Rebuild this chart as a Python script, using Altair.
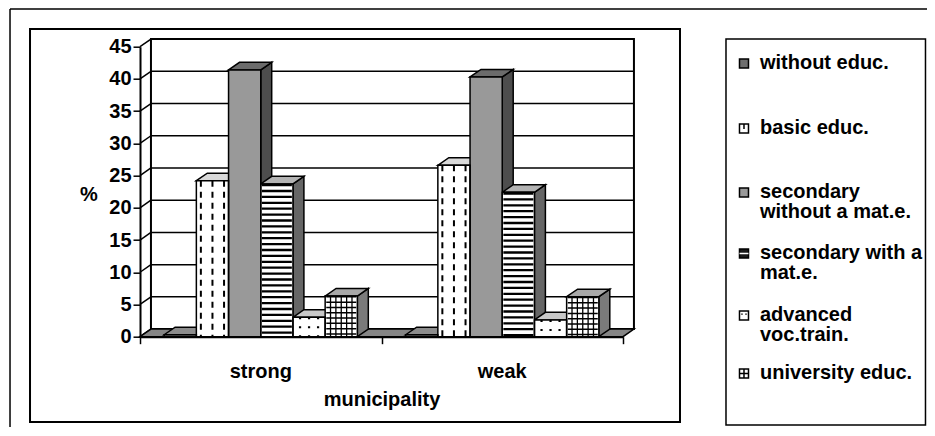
import altair as alt
import pandas as pd

# ---------------- data ----------------
MUNICIPALITIES = ["strong", "weak"]
EDUCATION = [
    "without educ.",
    "basic educ.",
    "secondary without a mat.e.",
    "secondary with a mat.e.",
    "advanced voc.train.",
    "university educ.",
]
STRONG = [0.3, 24.2, 41.4, 23.7, 3.0, 6.3]
WEAK = [0.3, 26.6, 40.3, 22.4, 2.6, 6.2]
Y_TICKS = [0, 5, 10, 15, 20, 25, 30, 35, 40, 45]
LEGEND_LINES = [
    ["without educ."],
    ["basic educ."],
    ["secondary", "without a mat.e."],
    ["secondary with a", "mat.e."],
    ["advanced", "voc.train."],
    ["university educ."],
]
Y_TITLE = "%"
X_TITLE = "municipality"

# ---------------- style ----------------
FRONT = ["#707070", "#ffffff", "#999999", "#ffffff", "#ffffff", "#ffffff"]
SIDE = ["#4d4d4d", "#8c8c8c", "#4d4d4d", "#666666", "#9a9a9a", "#7a7a7a"]
TOP = ["#8c8c8c", "#d9d9d9", "#6b6b6b", "#b3b3b3", "#c8c8c8", "#a8a8a8"]
SWATCH = ["#6e6e6e", "#ffffff", "#999999", "#1a1a1a", "#ffffff", "#ffffff"]
# small glyph inside each legend swatch (style only)
SWATCH_GLYPH = [None, ("M0,-1L0,0.1", "black"), None, ("M-1,0L1,0", "white"),
                ("M-0.45,-0.45L-0.45,-0.15M0.45,-0.45L0.45,-0.15", "black"),
                ("M-1,0L1,0M0,-1L0,1", "black")]
FONT = "Liberation Sans"
FS = 20
W, H = 483, 290
X_MAX, Y_MAX = 15.0, 45.0
GROUP, LEAD = 7.5, 0.75
DX, DY = 0.34, 1.18
LW = 1.5

xs = alt.Scale(domain=[0, X_MAX], nice=False, zero=False)
ys = alt.Scale(domain=[0, Y_MAX], nice=False, zero=False)

axis_common = dict(
    labelFont=FONT, titleFont=FONT, labelFontSize=FS, titleFontSize=FS,
    labelFontWeight="bold", titleFontWeight="bold", labelColor="black",
    titleColor="black", tickColor="black", domainColor="black",
    domainWidth=2, tickWidth=LW, tickSize=7, grid=False, zindex=1,
)
yaxis = alt.Axis(values=Y_TICKS, title=Y_TITLE, titleAngle=0, titleX=-51.5,
                 titleY=153.6, titleAlign="center", titleBaseline="alphabetic",
                 labelPadding=2, **axis_common)
xaxis = alt.Axis(values=[g * GROUP for g in range(len(MUNICIPALITIES) + 1)],
                 labels=False, title=X_TITLE, titleX=W / 2, titleY=68.8,
                 titleAlign="center", titleBaseline="alphabetic", **axis_common)


def X(f):
    return alt.X(f, type="quantitative", scale=xs, axis=xaxis, title=X_TITLE)


def Y(f):
    return alt.Y(f, type="quantitative", scale=ys, axis=yaxis, title=Y_TITLE)


# ---------------- tables ----------------
bar_rows, side_rows, top_rows = [], [], []
for g, (muni, vals) in enumerate(zip(MUNICIPALITIES, [STRONG, WEAK])):
    for i, (cat, v) in enumerate(zip(EDUCATION, vals)):
        left = g * GROUP + LEAD + i
        right = left + 1
        bid = f"{muni}|{cat}"
        bar_rows.append(dict(bar=bid, cat=cat, idx=i, muni=muni, left=left,
                             right=right, mid=left + 0.5, v=v, zero=0.0))
        side_rows += [
            dict(bar=bid, cat=cat, x=right, y=v, y2=0.0),
            dict(bar=bid, cat=cat, x=right + DX, y=v + DY, y2=DY),
        ]
        top_rows += [
            dict(bar=bid, cat=cat, x=left, y=v, y2=v),
            dict(bar=bid, cat=cat, x=left + DX, y=v + DY, y2=v),
            dict(bar=bid, cat=cat, x=right, y=v + DY, y2=v),
            dict(bar=bid, cat=cat, x=right + DX, y=v + DY, y2=v + DY),
        ]
bars = pd.DataFrame(bar_rows)
sides = pd.DataFrame(side_rows)
tops = pd.DataFrame(top_rows)

# vertical pattern lines inside front faces (style only)
PATTERNS = {
    1: dict(fr=[0.14, 0.5, 0.86], dash=[6, 5], sw=2.0),
    4: dict(fr=[0.22, 0.5, 0.78], dash=[2, 7], sw=2.2),
    5: dict(fr=[1 / 6, 2 / 6, 3 / 6, 4 / 6, 5 / 6], dash=None, sw=1.3),
}

layers = []

# back wall
wall = pd.DataFrame([dict(x0=DX, x1=X_MAX + DX, y0=DY, y1=Y_MAX + DY)])
layers.append(
    alt.Chart(wall).mark_rect(fill="white", stroke="black", strokeWidth=2).encode(
        x=X("x0"), x2="x1", y=Y("y0"), y2="y1"
    )
)
# gridlines on back wall
grid = pd.DataFrame([dict(x0=DX, x1=X_MAX + DX, yb=t + DY, yf=t) for t in Y_TICKS])
layers.append(
    alt.Chart(grid[grid.yf > 0]).mark_rule(color="black", strokeWidth=LW).encode(
        x=X("x0"), x2="x1", y=Y("yb")
    )
)
# left wall diagonals
grid2 = grid.assign(xf=0.0)
layers.append(
    alt.Chart(grid2).mark_rule(color="black", strokeWidth=LW).encode(
        x=X("xf"), x2="x0", y=Y("yf"), y2="yb"
    )
)
# floor
floor = pd.DataFrame([
    dict(f="floor", x=0.0, y=0.0, y2=0.0),
    dict(f="floor", x=DX, y=DY, y2=0.0),
    dict(f="floor", x=X_MAX, y=DY, y2=0.0),
    dict(f="floor", x=X_MAX + DX, y=DY, y2=DY),
])
layers.append(
    alt.Chart(floor).mark_area(fill="#858585", stroke="black", strokeWidth=LW,
                               orient="vertical").encode(
        x=X("x"), y=Y("y"), y2="y2", detail="f:N"
    )
)
# side faces
layers.append(
    alt.Chart(sides).mark_area(stroke="black", strokeWidth=LW, orient="vertical",
                               fillOpacity=1).encode(
        x=X("x"), y=Y("y"), y2="y2", detail="bar:N",
        fill=alt.Fill("cat:N", scale=alt.Scale(domain=EDUCATION, range=SIDE), legend=None),
    )
)
# top faces
layers.append(
    alt.Chart(tops).mark_area(stroke="black", strokeWidth=LW, orient="vertical",
                              fillOpacity=1).encode(
        x=X("x"), y=Y("y"), y2="y2", detail="bar:N",
        fill=alt.Fill("cat:N", scale=alt.Scale(domain=EDUCATION, range=TOP), legend=None),
    )
)
# front faces
layers.append(
    alt.Chart(bars).mark_rect(strokeWidth=0).encode(
        x=X("left"), x2="right", y=Y("v"), y2="zero",
        fill=alt.Fill("cat:N", scale=alt.Scale(domain=EDUCATION, range=FRONT), legend=None),
    )
)
# horizontal stripes (secondary with) and grid rows (university)
layers.append(
    alt.Chart(bars[bars.idx == 3]).mark_rule(color="black", strokeWidth=30,
                                             strokeDash=[2.3, 3.6], strokeCap="butt").encode(
        x=X("mid"), y=Y("v"), y2="zero"
    )
)
layers.append(
    alt.Chart(bars[bars.idx == 5]).mark_rule(color="black", strokeWidth=30,
                                             strokeDash=[1.5, 3.8], strokeCap="butt").encode(
        x=X("mid"), y=Y("v"), y2="zero"
    )
)
for k, p in PATTERNS.items():
    rows = []
    for _, b in bars[bars.idx == k].iterrows():
        for fr in p["fr"]:
            rows.append(dict(px=b.left + fr, v=b.v, zero=0.0))
    kw = dict(color="black", strokeWidth=p["sw"], strokeCap="butt")
    if p["dash"]:
        kw["strokeDash"] = p["dash"]
    layers.append(
        alt.Chart(pd.DataFrame(rows)).mark_rule(**kw).encode(
            x=X("px"), y=Y("v"), y2="zero"
        )
    )
# front outlines
layers.append(
    alt.Chart(bars).mark_rect(fillOpacity=0, stroke="black", strokeWidth=LW).encode(
        x=X("left"), x2="right", y=Y("v"), y2="zero"
    )
)
# category labels
labs = pd.DataFrame([dict(muni=m, cx=g * GROUP + GROUP / 2) for g, m in enumerate(MUNICIPALITIES)])
layers.append(
    alt.Chart(labs).mark_text(font=FONT, fontSize=FS, fontWeight="bold", color="black",
                              baseline="alphabetic", align="center").encode(
        x=X("cx"), y=alt.value(331.0), text="muni:N"
    )
)

one = alt.Data(values=[{"a": 1}])
# inner frame
layers.append(
    alt.Chart(one).mark_rect(fillOpacity=0, stroke="black", strokeWidth=2).encode(
        x=alt.value(-110), x2=alt.value(540), y=alt.value(-17.7), y2=alt.value(375.3)
    )
)
# outer lines
layers.append(
    alt.Chart(one).mark_rule(color="black", strokeWidth=LW).encode(
        x=alt.value(-130), x2=alt.value(800), y=alt.value(-37.7)
    )
)
layers.append(
    alt.Chart(one).mark_rule(color="black", strokeWidth=LW).encode(
        x=alt.value(-130), y=alt.value(-37.7), y2=alt.value(400)
    )
)
# legend box
layers.append(
    alt.Chart(one).mark_rect(fillOpacity=0, stroke="black", strokeWidth=LW).encode(
        x=alt.value(586), x2=alt.value(785.5), y=alt.value(-7.7), y2=alt.value(378.3)
    )
)
SW_Y = [16.8, 81.8, 145.8, 206.8, 268.8, 326.8]
for k, lines in enumerate(LEGEND_LINES):
    d = alt.Data(values=[{"label": "\n".join(lines)}])
    layers.append(
        alt.Chart(d).mark_square(size=81, filled=True, fill=SWATCH[k], stroke="black",
                                 strokeWidth=LW, opacity=1).encode(
            x=alt.value(604), y=alt.value(SW_Y[k])
        )
    )
    if SWATCH_GLYPH[k]:
        path, col = SWATCH_GLYPH[k]
        layers.append(
            alt.Chart(d).mark_point(shape=path, size=81, filled=False, stroke=col,
                                    strokeWidth=1.5, opacity=1).encode(
                x=alt.value(604), y=alt.value(SW_Y[k])
            )
        )
    layers.append(
        alt.Chart(d).mark_text(font=FONT, fontSize=FS, fontWeight="bold", color="black",
                               align="left", baseline="alphabetic", lineBreak="\n",
                               lineHeight=20).encode(
            x=alt.value(620), y=alt.value(SW_Y[k] + 6), text="label:N"
        )
    )

chart = (
    alt.layer(*layers)
    .resolve_scale(fill="independent")
    .properties(
        width=W, height=H,
        autosize=alt.AutoSizeParams(type="none"),
        padding={"left": 132, "top": 38.7, "right": 304, "bottom": 90},
        background="white",
    )
    .configure_view(strokeWidth=0)
)

chart.save("out.html", embed_options={"renderer": "svg", "actions": False})
